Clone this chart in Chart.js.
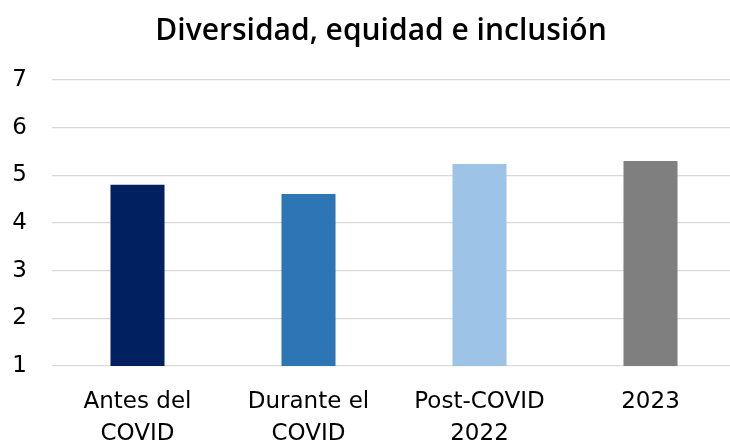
<!DOCTYPE html>
<html>
<head>
<meta charset="utf-8">
<script src="https://cdn.jsdelivr.net/npm/chart.js@4.4.1/dist/chart.umd.min.js"></script>
<style>
  html, body { margin: 0; padding: 0; background: #fff; overflow: hidden; }
  #wrap { width: 762px; height: 444px; }
</style>
</head>
<body>
<div id="wrap"><canvas id="myChart"></canvas></div>
<script>
const categories = [["Antes del", "COVID"], ["Durante el", "COVID"], ["Post-COVID", "2022"], "2023"];
const scores = [4.8, 4.61, 5.24, 5.3];
const barColors = ["#002060", "#2E75B6", "#9DC3E6", "#7F7F7F"];
const yTicks = [1, 2, 3, 4, 5, 6, 7];
const chartTitle = "Diversidad, equidad e inclusión";

const chart = new Chart("myChart", {
  type: "bar",
  data: {
    labels: categories,
    datasets: [
      {
        data: scores,
        backgroundColor: barColors,
        categoryPercentage: 1,
        barPercentage: 0.316,
      },
    ],
  },
  options: {
    responsive: true,
    maintainAspectRatio: false,
    animation: false,
    layout: { padding: 0 },
    plugins: {
      legend: { display: false },
      tooltip: { enabled: false },
      title: {
        display: true,
        text: chartTitle,
        color: "#000",
        font: { family: "'Open Sans', sans-serif", size: 30, weight: "600", lineHeight: 1.2 },
        padding: { top: 13, bottom: 31 },
      },
    },
    scales: {
      x: {
        grid: { display: false, drawTicks: false },
        border: { display: false },
        ticks: {
          color: "#000",
          padding: 21,
          maxRotation: 0,
          font: { family: "'DejaVu Sans', sans-serif", size: 23, lineHeight: 1.35 },
        },
        afterFit: (scale) => { scale.height = 78; },
      },
      y: {
        min: yTicks[0],
        max: yTicks[yTicks.length - 1],
        afterBuildTicks: (scale) => { scale.ticks = yTicks.map((v) => ({ value: v })); },
        grid: { color: "#d9d9d9", lineWidth: 1.3, drawTicks: false },
        border: { display: false },
        ticks: {
          color: "#000",
          padding: 25,
          font: { family: "'DejaVu Sans', sans-serif", size: 23 },
        },
        afterFit: (scale) => { scale.width = 52; },
      },
      // empty right-hand box so the plot ends past the window edge
      yRight: {
        position: "right",
        grid: { display: false, drawTicks: false },
        border: { display: false },
        ticks: { display: false },
        afterFit: (scale) => { scale.width = 26; },
      },
    },
  },
});
</script>
</body>
</html>
